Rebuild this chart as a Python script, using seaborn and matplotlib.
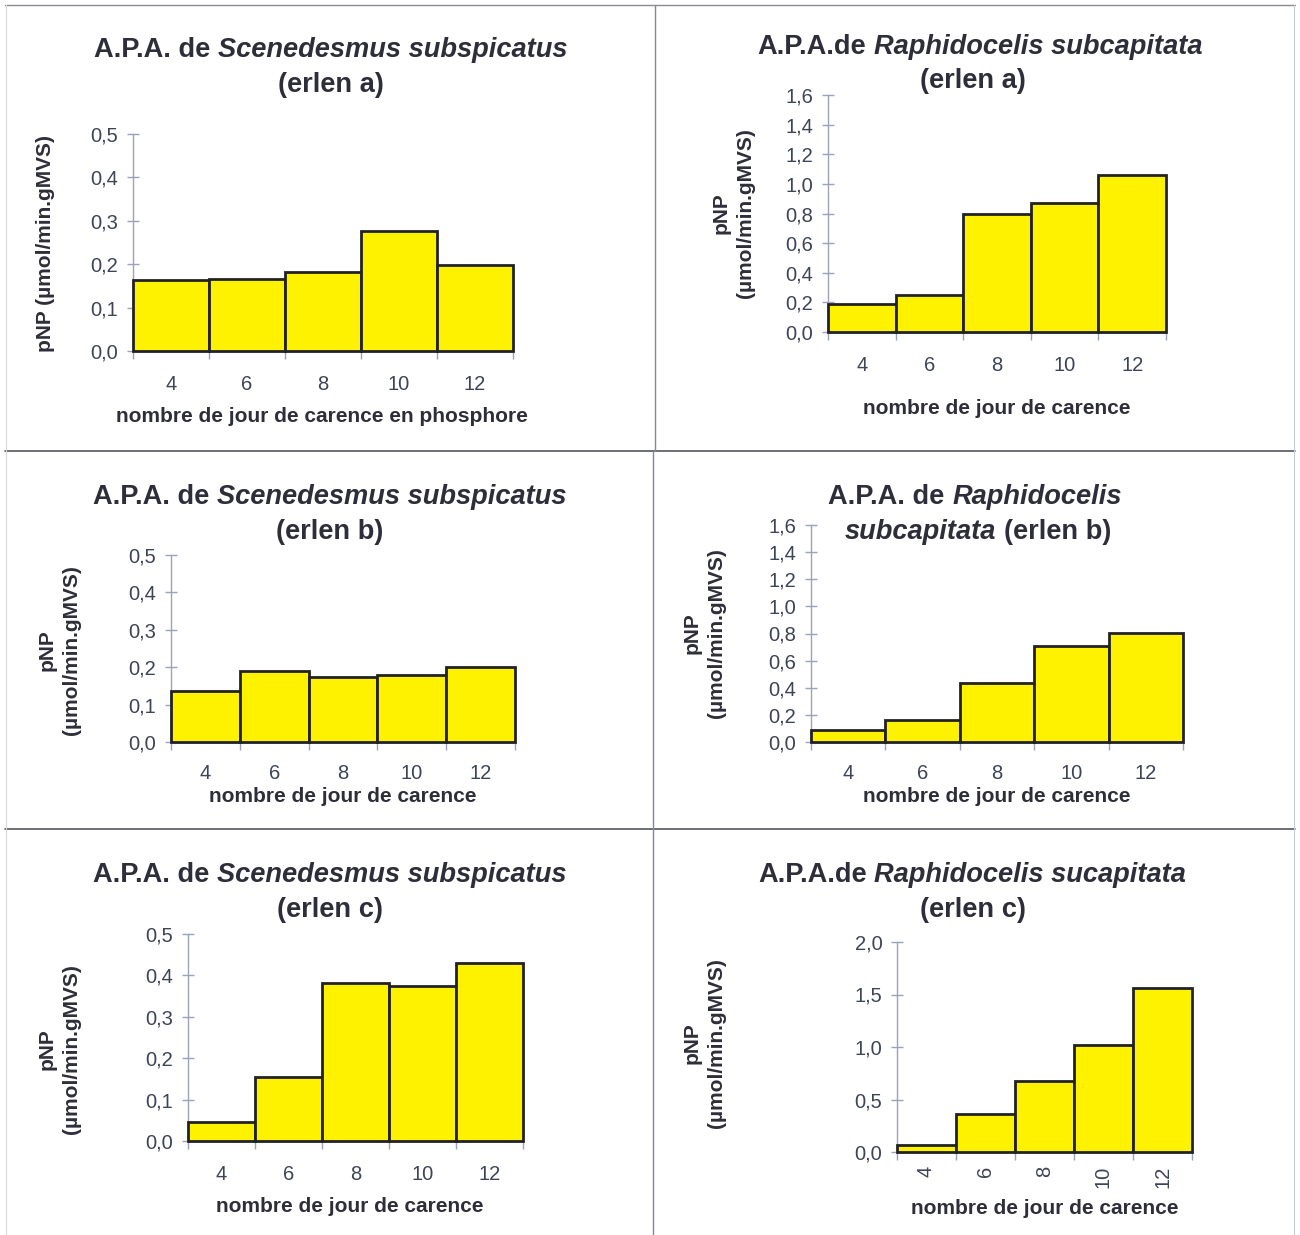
import matplotlib
matplotlib.use("Agg")
import matplotlib.pyplot as plt
import seaborn as sns
import pandas as pd
from matplotlib.lines import Line2D
from matplotlib.ticker import FixedLocator, FuncFormatter

# ---- data -------------------------------------------------------------
days = [4, 6, 8, 10, 12]

scen_a = [0.164, 0.167, 0.182, 0.276, 0.198]
raph_a = [0.187, 0.250, 0.795, 0.869, 1.060]
scen_b = [0.136, 0.189, 0.175, 0.178, 0.201]
raph_b = [0.092, 0.165, 0.436, 0.707, 0.805]
scen_c = [0.046, 0.155, 0.382, 0.374, 0.429]
raph_c = [0.070, 0.360, 0.673, 1.020, 1.566]

ticks_scen = [0.0, 0.1, 0.2, 0.3, 0.4, 0.5]
ticks_raph = [0.0, 0.2, 0.4, 0.6, 0.8, 1.0, 1.2, 1.4, 1.6]
ticks_raph_c = [0.0, 0.5, 1.0, 1.5, 2.0]

xlabel_long = "nombre de jour de carence en phosphore"
xlabel_short = "nombre de jour de carence"
ylabel_one = "pNP (µmol/min.gMVS)"
ylabel_two = "pNP\n(µmol/min.gMVS)"

# ---- style ------------------------------------------------------------
W, H = 1300, 1235
sns.set_theme(style="white")
plt.rcParams["font.family"] = ["Liberation Sans", "DejaVu Sans"]

BAR = "#FFF200"
EDGE = "#222226"
TXT = "#2e2e3a"
TICKTXT = "#3e4458"
AXIS = "#9aa2bc"
GRID = "#55555f"

TITLE_FS = 19.6
LABEL_FS = 15
TICK_FS = 14.5

fig = plt.figure(figsize=(W / 100, H / 100), dpi=100)
fig.patch.set_facecolor("white")


def fx(x):
    return x / W


def fy(y):
    return 1 - y / H


# table borders around the six charts
def hline(y, x0, x1, color=GRID, lw=1.2):
    fig.add_artist(Line2D([fx(x0), fx(x1)], [fy(y), fy(y)], color=color, lw=lw))


def vline(x, y0, y1, color=GRID, lw=1.0):
    fig.add_artist(Line2D([fx(x), fx(x)], [fy(y0), fy(y1)], color=color, lw=lw))


hline(5, 5, 1295, "#8a8a92", 1.0)
hline(451, 5, 1295)
hline(829, 5, 1295)
vline(655, 5, 451, "#8088a0")
vline(653, 451, 1235, "#8088a0")
vline(6, 5, 1235, "#d8d8dc", 0.8)
vline(1294, 5, 1235, "#c8ccd8", 0.8)

renderer = fig.canvas.get_renderer()


def text_width(s, style):
    t = fig.text(0, 0, s, fontsize=TITLE_FS, fontweight="bold", fontstyle=style)
    w = t.get_window_extent(renderer).width
    t.remove()
    return w


def title_line(cx, cy, segments):
    """Draw bold segments (some italic) centred on (cx, cy) in pixels."""
    space = text_width("x x", "normal") - text_width("xx", "normal")
    widths = [text_width(s, st) for s, st, _ in segments]
    gaps = [space if g else 0 for _, _, g in segments]
    total = sum(widths) + sum(gaps[:-1])
    x = cx - total / 2
    for (s, st, g), w, gp in zip(segments, widths, gaps):
        fig.text(fx(x), fy(cy), s, fontsize=TITLE_FS, fontweight="bold",
                 fontstyle=st, color=TXT, ha="left", va="center")
        x += w + gp


def fmt(v, _pos=None):
    return f"{v:.1f}".replace(".", ",")


panels = [
    dict(vals=scen_a, rect=(133, 134, 513, 351), yticks=ticks_scen,
         title=[[("A.P.A. de", "normal", True), ("Scenedesmus subspicatus", "italic", False)],
                [("(erlen a)", "normal", False)]],
         tpos=[(331, 50), (331, 85)],
         xlabel=xlabel_long, xlpos=(322, 417), ylabel=ylabel_one, ylpos=(46, 243),
         rot=0, pad=17),
    dict(vals=raph_a, rect=(828, 95, 1166, 332), yticks=ticks_raph,
         title=[[("A.P.A.de", "normal", True), ("Raphidocelis subcapitata", "italic", False)],
                [("(erlen a)", "normal", False)]],
         tpos=[(980, 47), (973, 81)],
         xlabel=xlabel_short, xlpos=(997, 408), ylabel=ylabel_two, ylpos=(733, 213),
         rot=0, pad=17),
    dict(vals=scen_b, rect=(171, 555, 515, 742), yticks=ticks_scen,
         title=[[("A.P.A. de", "normal", True), ("Scenedesmus subspicatus", "italic", False)],
                [("(erlen b)", "normal", False)]],
         tpos=[(330, 497), (330, 532)],
         xlabel=xlabel_short, xlpos=(343, 796), ylabel=ylabel_two, ylpos=(59, 650),
         rot=0, pad=16),
    dict(vals=raph_b, rect=(811, 525, 1183, 742), yticks=ticks_raph,
         title=[[("A.P.A. de", "normal", True), ("Raphidocelis", "italic", False)],
                [("subcapitata", "italic", True), ("(erlen b)", "normal", False)]],
         tpos=[(975, 497), (978, 532)],
         xlabel=xlabel_short, xlpos=(997, 796), ylabel=ylabel_two, ylpos=(704, 633),
         rot=0, pad=16),
    dict(vals=scen_c, rect=(188, 934, 523, 1141), yticks=ticks_scen,
         title=[[("A.P.A. de", "normal", True), ("Scenedesmus subspicatus", "italic", False)],
                [("(erlen c)", "normal", False)]],
         tpos=[(330, 875), (330, 910)],
         xlabel=xlabel_short, xlpos=(350, 1207), ylabel=ylabel_two, ylpos=(59, 1049),
         rot=0, pad=17),
    dict(vals=raph_c, rect=(897, 942, 1192, 1152), yticks=ticks_raph_c,
         title=[[("A.P.A.de", "normal", True), ("Raphidocelis sucapitata", "italic", False)],
                [("(erlen c)", "normal", False)]],
         tpos=[(972, 875), (973, 910)],
         xlabel=xlabel_short, xlpos=(1045, 1208), ylabel=ylabel_two, ylpos=(704, 1043),
         rot=90, pad=10),
]

for p in panels:
    l, t, r, b = p["rect"]
    ax = fig.add_axes([fx(l), fy(b), (r - l) / W, (b - t) / H])
    df = pd.DataFrame({"jour": [str(d) for d in days], "pNP": p["vals"]})
    sns.barplot(data=df, x="jour", y="pNP", ax=ax, color=BAR, saturation=1,
                width=1.0, edgecolor=EDGE, linewidth=2.0, zorder=3)
    for patch in ax.patches:
        patch.set_clip_on(False)
    ax.set_xlim(-0.5, len(days) - 0.5)
    ax.set_ylim(p["yticks"][0], p["yticks"][-1])
    ax.set_facecolor("white")

    for side in ("top", "right"):
        ax.spines[side].set_visible(False)
    for side in ("left", "bottom"):
        ax.spines[side].set_color(AXIS)
        ax.spines[side].set_linewidth(1.0)

    ax.yaxis.set_major_locator(FixedLocator(p["yticks"]))
    ax.yaxis.set_major_formatter(FuncFormatter(fmt))
    ax.tick_params(axis="y", which="major", direction="inout", length=9, width=1.0,
                   color=AXIS, labelsize=TICK_FS, labelcolor=TICKTXT, pad=6, left=True)

    ax.set_xticks(range(len(days)))
    ax.set_xticklabels([str(d) for d in days], rotation=p["rot"])
    ax.set_xticks([i - 0.5 for i in range(len(days) + 1)], minor=True)
    ax.tick_params(axis="x", which="major", length=0, labelsize=TICK_FS,
                   labelcolor=TICKTXT, pad=p["pad"])
    ax.tick_params(axis="x", which="minor", direction="out", length=6, width=1.0,
                   color=AXIS, bottom=True)

    # axis titles placed in axes fractions
    ax.set_xlabel(p["xlabel"], fontsize=LABEL_FS, fontweight="bold", color=TXT, va="center")
    xlx, xly = p["xlpos"]
    ax.xaxis.set_label_coords((xlx - l) / (r - l), (b - xly) / (b - t))
    ax.set_ylabel(p["ylabel"], fontsize=LABEL_FS, fontweight="bold", color=TXT,
                  va="center", ha="center", linespacing=1.35)
    ylx, yly = p["ylpos"]
    ax.yaxis.set_label_coords((ylx - l) / (r - l), (b - yly) / (b - t))

    for segs, (cx, cy) in zip(p["title"], p["tpos"]):
        title_line(cx, cy, segs)

fig.savefig("out.png", dpi=100, facecolor="white")
